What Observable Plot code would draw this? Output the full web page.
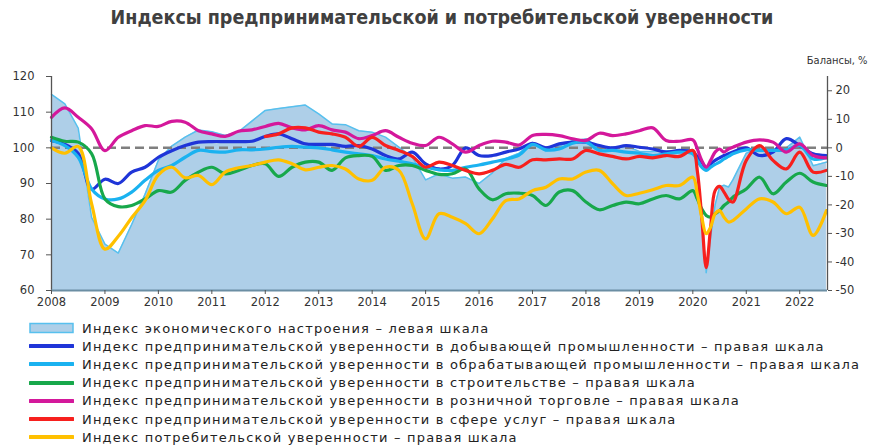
<!DOCTYPE html>
<html><head><meta charset="utf-8">
<script src="https://cdn.jsdelivr.net/npm/d3@7"></script>
<script src="https://cdn.jsdelivr.net/npm/@observablehq/plot@0.6"></script>
<style>
body{margin:0;background:#fff;width:870px;height:446px;overflow:hidden;font-family:"DejaVu Sans",sans-serif;}
#title{height:36px;line-height:36px;text-align:center;font-family:"Liberation Sans Narrow","DejaVu Sans Condensed",sans-serif;font-weight:bold;font-size:19.5px;color:#404040;padding-left:14px;}
#chart{height:285px;}
#legend{margin-top:-2px;}
.row{display:flex;align-items:center;height:18.2px;font-size:13px;letter-spacing:1.2px;color:#222;white-space:nowrap;}
.row svg{margin-left:29px;margin-right:8px;flex:none;}
</style></head><body>
<div id="title">Индексы предпринимательской и потребительской уверенности</div>
<div id="chart"></div>
<div id="legend"></div>
<script>
const months = ["2008-01","2008-04","2008-07","2008-10","2009-01","2009-04","2009-07","2009-10",
"2010-01","2010-04","2010-07","2010-10","2011-01","2011-04","2011-07","2011-10",
"2012-01","2012-04","2012-07","2012-10","2013-01","2013-04","2013-07","2013-10",
"2014-01","2014-04","2014-07","2014-10","2015-01","2015-04","2015-07","2015-10",
"2016-01","2016-04","2016-07","2016-10","2017-01","2017-04","2017-07","2017-10",
"2018-01","2018-04","2018-07","2018-10","2019-01","2019-04","2019-07","2019-10",
"2020-01","2020-02","2020-03","2020-04","2020-05","2020-06","2020-07","2020-08","2020-09","2020-10",
"2021-01","2021-04","2021-07","2021-10","2022-01","2022-04","2022-07"];

// Индекс экономического настроения (левая шкала)
const econ = [115,112.3,105.5,80.5,73,70.5,78.5,87,
96.5,100.5,103,105,104.5,103.5,104.5,107.5,
110.5,111,111.5,112,109.5,106.7,106.5,104.8,
104.4,103,100.2,97.4,91,92.7,91.5,91.8,
90,93,97,98.5,101.5,99,100.5,102,
102.5,100,99.5,100.5,99,99,99.2,99.2,
99.5,95,80,65,75,84,89,89.5,89,91,
98.5,100,99.5,100,103,95,96];

// правая шкала
const mining = [2.5,1.2,-2,-14.5,-11,-12.5,-8.5,-6.8,
-3.3,-1,0.8,2,2.2,2.2,2.2,2.3,
4,4.9,3.2,1.4,1.2,1.2,0.5,0.8,
-0.4,-2.7,-3.9,-1.5,-5.6,-7.4,-6.2,0,
-2.7,-2.7,-1.5,-0.4,1.6,0,1.4,2,
2,0.8,0,0.8,0.2,-0.4,-1.5,-0.9,
-1.5,-3,-5,-6.8,-5.6,-4.4,-3.5,-2.7,-2.1,-1.5,
0,-2.7,-1.5,3.2,0.8,-2.1,-2.7];

const manufacturing = [2.6,0.8,-3.3,-14.4,-17.9,-17.9,-15.5,-11.4,
-7.9,-6.2,-3.3,-0.9,-1.3,-1.5,-0.7,-0.7,
-0.4,0.2,0.5,0.2,0,-0.7,-1.5,-2.1,
-2.7,-3.9,-4.7,-5.6,-6.8,-7.7,-7.9,-6.8,
-6,-5,-4,-2.5,1.2,-0.7,-0.4,1.6,
2,-0.9,-0.9,-1.5,-1.9,-2.7,-2.1,-1.5,
-2.1,-4.4,-6.8,-7.9,-6.8,-5.8,-5,-3.9,-3,-2.1,
-0.7,-0.9,-0.9,-0.7,0.8,-3.9,-3.5];

const construction = [3.7,2.3,2,-2,-17.9,-20.6,-20.2,-17.9,
-15,-15.5,-11.4,-8.5,-6.8,-9.1,-7.9,-6.2,
-5.6,-10,-6.8,-5,-5,-7.9,-3.5,-2.7,
-3,-7.9,-6.2,-6.2,-7.9,-9.3,-9.1,-7.4,
-14.4,-18.2,-16.1,-15.9,-16.7,-20.2,-15.5,-15,
-19,-21.7,-20.2,-19,-19.6,-17.9,-16.7,-17.9,
-15,-17.9,-21.4,-23.7,-24.3,-23.1,-22,-20.2,-19,-17.3,
-14.4,-10.3,-16.1,-12,-8.9,-12,-13.2];

const retail = [10.7,14,10.7,6.7,-1,3.7,6,7.8,
7.5,9.3,9,6,4.9,4,5.8,6.3,
7.5,8.6,7,6.3,7.8,6.3,5.5,3.2,
4.3,6,3.7,1.6,0.8,3.7,1.4,-1.5,
0.8,2.3,2,1,4.3,4.7,4.3,3.2,
2.6,5.1,4.3,4.9,6,7,2.6,2.3,
2.8,-0.4,-4.4,-6.8,-4.4,-1.5,-0.4,-1.5,-0.4,0.2,
2,2.8,2,-1.5,1.4,-2.7,-3.5];

const services = [null,null,null,null,null,null,null,null,
null,null,null,null,null,null,null,null,
4,4.9,7,7,5.5,4.9,3.7,0.5,
3.7,0.8,-0.9,-3,-6.8,-5,-6.2,-7.9,
-9.1,-7.9,-5.8,-6.8,-4.2,-4.2,-3.9,-3.9,
-0.9,-2.1,-3,-3.9,-3,-3.5,-2.7,-3,
-0.9,-8,-24.3,-42,-27.8,-15,-13.5,-15.5,-18,-19,
-4.4,0.8,-4.4,-7.4,-1.5,-8.5,-7.9];

const consumer = [0,-1.9,0.5,-19.6,-35.5,-31,-24.5,-18.5,
-9.5,-6.8,-10.5,-9.7,-12.9,-8.5,-7,-6.2,
-5,-4.2,-5.6,-7.7,-6.8,-6.2,-7.4,-10.9,
-11.4,-6.8,-7.9,-19.6,-31.9,-23.1,-24.3,-26.6,
-30.1,-24.9,-18.5,-17.9,-15,-13.8,-10.9,-10.9,
-8.5,-7.9,-12.6,-16.7,-15.9,-14.7,-13.2,-13.2,
-10.3,-16.1,-24.3,-30.1,-27.8,-23.1,-22,-24.3,-26,-25.5,
-21.4,-17.9,-19,-23.1,-20.8,-30.7,-22];

const years = [2008,2009,2010,2011,2012,2013,2014,2015,2016,2017,2018,2019,2020,2021,2022];
const leftTicks = [60,70,80,90,100,110,120];
const rightTicks = [-50,-40,-30,-20,-10,0,10,20];

const seriesNames = [
  "Индекс экономического настроения – левая шкала",
  "Индекс предпринимательской уверенности в добывающей промышленности – правая шкала",
  "Индекс предпринимательской уверенности в обрабатывающей промышленности – правая шкала",
  "Индекс предпринимательской уверенности в строительстве – правая шкала",
  "Индекс предпринимательской уверенности в розничной торговле – правая шкала",
  "Индекс предпринимательской уверенности в сфере услуг – правая шкала",
  "Индекс потребительской  уверенности – правая шкала"
];
const colors = ["#aecfe8","#1f35d8","#1ab2f0","#17a84b","#d4189b","#f7201e","#ffc000"];
const areaStroke = "#57c0ee";

const toYear = s => +s.slice(0,4) + (+s.slice(5,7) - 1) / 12;
// left scale value -> right scale units (100 ↔ 0, 60 ↔ -50)
const leftToRight = v => (v - 100) * 1.25;

const econRows = months.map((m, i) => ({t: toYear(m), v: leftToRight(econ[i])}));
const lineSeries = [mining, manufacturing, construction, retail, services, consumer];
const lineRows = lineSeries.map((vals, k) => months.map((m, i) => ({t: toYear(m), v: vals[i], k})));

const xDomain = [2008, 2022.52];
const axisColor = "#555";

const chart = Plot.plot({
  width: 870, height: 285,
  marginTop: 40, marginBottom: 31, marginLeft: 51, marginRight: 43,
  x: {domain: xDomain},
  y: {domain: [-50, 25]},
  style: {fontFamily: "DejaVu Sans, sans-serif", fontSize: "11.5px", color: "#333", background: "transparent"},
  marks: [
    Plot.areaY(econRows, {x: "t", y1: -50, y2: "v", fill: colors[0], curve: "linear"}),
    Plot.lineY(econRows, {x: "t", y: "v", stroke: areaStroke, strokeWidth: 1.5, curve: "linear"}),
    Plot.ruleY([0], {stroke: "#7f7f7f", strokeWidth: 2.5, strokeDasharray: "9,5"}),
    ...lineRows.map((rows, k) => Plot.lineY(rows, {x: "t", y: "v", stroke: colors[k + 1], strokeWidth: 3.2, curve: "catmull-rom"})),
    Plot.ruleX([xDomain[0]], {stroke: axisColor, strokeWidth: 1.3}),
    Plot.ruleX([xDomain[1]], {stroke: axisColor, strokeWidth: 1.3}),
    Plot.ruleY([-50], {stroke: "#6b8ea3", strokeWidth: 2}),
    Plot.axisY(leftTicks.map(leftToRight), {anchor: "left", label: null, tickSize: 5, tickPadding: 12, stroke: axisColor,
      tickFormat: d => String(Math.round(100 + d * 0.8))}),
    Plot.axisY(rightTicks, {anchor: "right", label: null, tickSize: 4, tickPadding: 4, stroke: axisColor,
      tickFormat: d => String(d)}),
    Plot.axisX(years, {anchor: "bottom", label: null, tickSize: 4, tickPadding: 3, stroke: axisColor,
      tickFormat: d => String(d)}),
    Plot.text(["Балансы, %"], {frameAnchor: "top-right", dx: 40, dy: -20, textAnchor: "end",
      fontSize: 11, fontFamily: "DejaVu Sans Condensed, DejaVu Sans, sans-serif", fill: "#333"})
  ]
});
document.getElementById("chart").appendChild(chart);

const legend = document.getElementById("legend");
seriesNames.forEach((name, k) => {
  const row = document.createElement("div");
  row.className = "row";
  const sw = k === 0
    ? `<svg width="45" height="12"><rect x="1" y="1.5" width="43" height="9" fill="${colors[0]}" stroke="${areaStroke}" stroke-width="1.5"/></svg>`
    : `<svg width="45" height="12"><line x1="1" x2="44" y1="6" y2="6" stroke="${colors[k]}" stroke-width="4" stroke-linecap="round"/></svg>`;
  row.innerHTML = sw + `<span>${name}</span>`;
  legend.appendChild(row);
});
</script>
</body></html>
